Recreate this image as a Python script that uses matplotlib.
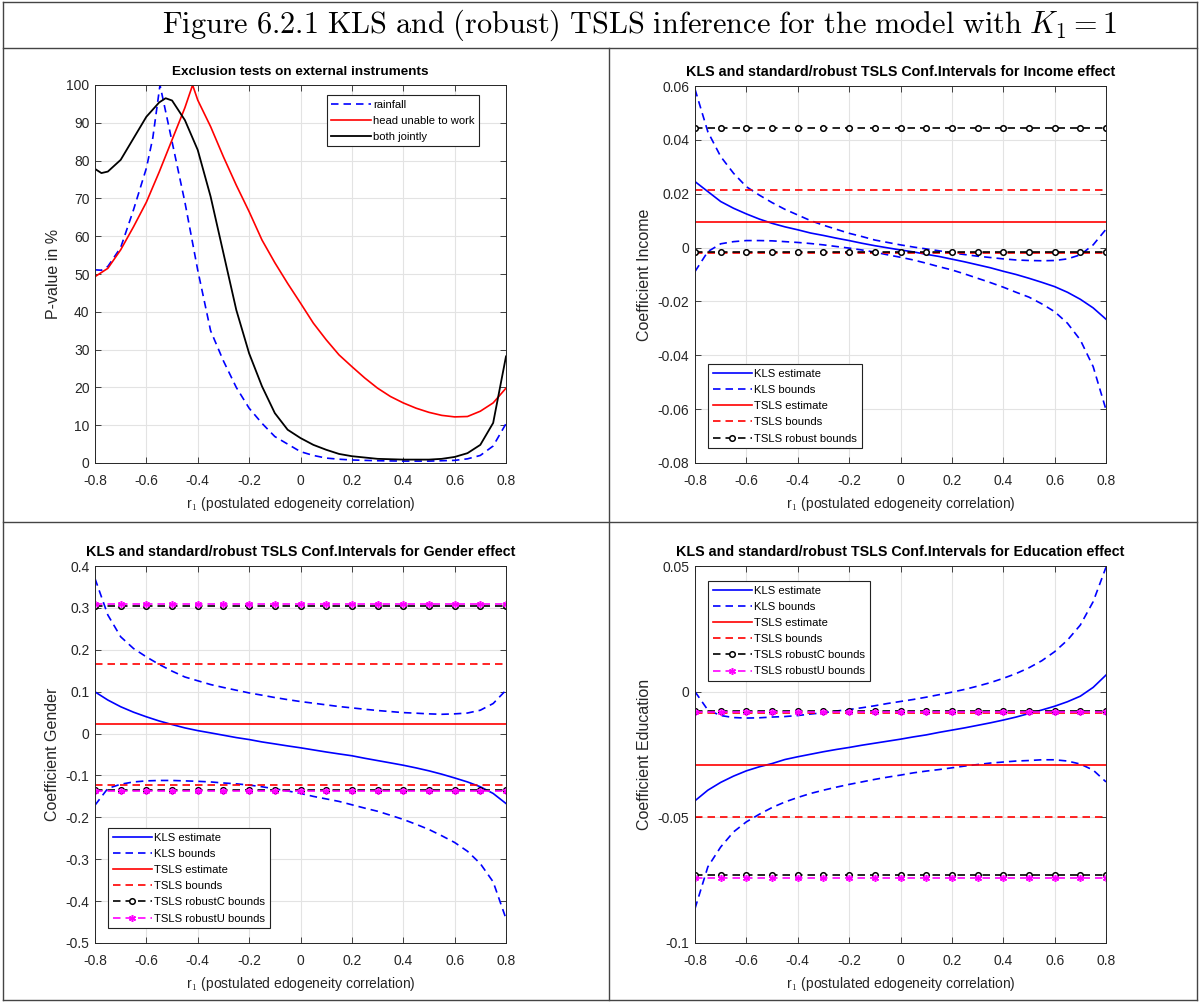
# KLS and (robust) TSLS inference, four panels in a framed table layout.
import matplotlib as mpl
import matplotlib.pyplot as plt
from matplotlib.lines import Line2D

mpl.rcParams['font.family'] = ['Liberation Sans', 'DejaVu Sans']
mpl.rcParams['mathtext.fontset'] = 'cm'

# ---------------- data ----------------
r = [-0.8, -0.75, -0.7, -0.65, -0.6, -0.55, -0.5, -0.45, -0.4, -0.35, -0.3,
     -0.25, -0.2, -0.15, -0.1, -0.05, 0.0, 0.05, 0.1, 0.15, 0.2, 0.25, 0.3,
     0.35, 0.4, 0.45, 0.5, 0.55, 0.6, 0.65, 0.7, 0.75, 0.8]
r_marks = [-0.8, -0.7, -0.6, -0.5, -0.4, -0.3, -0.2, -0.1, 0.0, 0.1, 0.2,
           0.3, 0.4, 0.5, 0.6, 0.7, 0.8]

# panel 1: p-values (%)
r_rain = [-0.8, -0.775, -0.75, -0.7, -0.65, -0.6, -0.575, -0.547, -0.5, -0.45,
          -0.4, -0.35, -0.3, -0.25, -0.2, -0.15, -0.1, -0.05, 0.0, 0.05, 0.1,
          0.15, 0.2, 0.3, 0.4, 0.5, 0.6, 0.65, 0.7, 0.75, 0.8]
p_rain = [51.1, 51.0, 52.0, 57.0, 67.0, 78.0, 86.0, 100.0, 85.0, 69.0,
          51.0, 35.0, 27.0, 20.0, 14.5, 10.5, 7.0, 5.0, 3.0, 2.0, 1.3,
          1.0, 0.8, 0.6, 0.5, 0.5, 0.7, 1.1, 2.0, 4.5, 10.4]
r_head = [-0.8, -0.75, -0.7, -0.65, -0.6, -0.55, -0.5, -0.45, -0.42, -0.4,
          -0.35, -0.3, -0.25, -0.2, -0.15, -0.1, -0.05, 0.0, 0.05, 0.1, 0.15,
          0.2, 0.25, 0.3, 0.35, 0.4, 0.45, 0.5, 0.55, 0.6, 0.65, 0.7, 0.75, 0.8]
p_head = [49.3, 51.5, 56.4, 62.5, 69.0, 77.0, 85.5, 94.0, 100.0, 96.0,
          89.0, 81.0, 73.5, 66.5, 59.0, 53.0, 47.5, 42.3, 37.0, 32.6, 28.6,
          25.5, 22.5, 19.8, 17.6, 15.9, 14.5, 13.4, 12.6, 12.2, 12.3, 13.7, 15.9, 19.8]
r_both = [-0.8, -0.775, -0.75, -0.7, -0.65, -0.6, -0.55, -0.525, -0.5, -0.45,
          -0.4, -0.35, -0.3, -0.25, -0.2, -0.15, -0.1, -0.05, 0.0, 0.05, 0.1,
          0.15, 0.2, 0.3, 0.4, 0.5, 0.55, 0.6, 0.65, 0.7, 0.75, 0.8]
p_both = [77.8, 76.7, 77.1, 80.2, 85.9, 91.6, 95.4, 96.5, 95.9, 90.7,
          82.8, 70.5, 55.5, 40.5, 29.0, 20.3, 13.2, 8.8, 6.6, 4.8, 3.5,
          2.4, 1.8, 1.1, 0.9, 0.9, 1.1, 1.6, 2.6, 4.8, 10.6, 28.2]

# panel 2: income
inc_kls = [0.0245, 0.0208, 0.0171, 0.0146, 0.0125, 0.0106, 0.0090, 0.0077, 0.0066,
           0.0054, 0.0045, 0.0035, 0.0026, 0.0016, 0.0007, -0.0001, -0.0009,
           -0.0016, -0.0025, -0.0033, -0.0043, -0.0053, -0.0064, -0.0075, -0.0088,
           -0.0100, -0.0114, -0.0129, -0.0145, -0.0166, -0.0192, -0.0224, -0.0266]
inc_kls_up = [0.0588, 0.0430, 0.0338, 0.0276, 0.0226, 0.0195, 0.0167, 0.0142, 0.0121,
              0.0100, 0.0083, 0.0068, 0.0053, 0.0041, 0.0028, 0.0019, 0.0010,
              0.0002, -0.0005, -0.0012, -0.0020, -0.0026, -0.0032, -0.0037, -0.0042,
              -0.0046, -0.0048, -0.0049, -0.0048, -0.0042, -0.0027, 0.0010, 0.0068]
inc_kls_lo = [-0.0089, -0.0015, 0.0014, 0.0022, 0.0026, 0.0026, 0.0025, 0.0022, 0.0019,
              0.0015, 0.0010, 0.0004, -0.0002, -0.0009, -0.0017, -0.0027, -0.0036,
              -0.0046, -0.0058, -0.0071, -0.0083, -0.0098, -0.0114, -0.0130, -0.0147,
              -0.0166, -0.0184, -0.0209, -0.0238, -0.0281, -0.0343, -0.0442, -0.0602]
inc_tsls = 0.0096
inc_tsls_bounds = (-0.0022, 0.0214)
inc_robust = (-0.0018, 0.0443)

# panel 3: gender
gen_kls = [0.0995, 0.080, 0.064, 0.051, 0.040, 0.030, 0.0215, 0.0135, 0.007,
           0.0016, -0.004, -0.0096, -0.0143, -0.020, -0.0247, -0.0295, -0.034,
           -0.039, -0.044, -0.0486, -0.053, -0.059, -0.0645, -0.070, -0.0756,
           -0.082, -0.089, -0.097, -0.106, -0.1155, -0.127, -0.143, -0.167]
gen_kls_up = [0.370, 0.283, 0.231, 0.203, 0.183, 0.165, 0.149, 0.135, 0.126,
              0.117, 0.110, 0.1035, 0.097, 0.0916, 0.086, 0.081, 0.0764,
              0.0725, 0.0685, 0.0645, 0.0613, 0.058, 0.055, 0.0525, 0.050,
              0.0486, 0.047, 0.046, 0.047, 0.049, 0.0557, 0.0717, 0.1035]
gen_kls_lo = [-0.171, -0.131, -0.121, -0.1155, -0.113, -0.112, -0.112, -0.113, -0.114,
              -0.1155, -0.118, -0.120, -0.123, -0.127, -0.132, -0.137, -0.143,
              -0.150, -0.156, -0.162, -0.170, -0.178, -0.1855, -0.195, -0.205,
              -0.2166, -0.229, -0.244, -0.260, -0.281, -0.3105, -0.354, -0.442]
gen_tsls = 0.0223
gen_tsls_bounds = (-0.122, 0.167)
gen_robust_c = (-0.134, 0.304)
gen_robust_u = (-0.137, 0.309)

# panel 4: education
edu_kls = [-0.0434, -0.0392, -0.0361, -0.0336, -0.0315, -0.0299, -0.0286, -0.0270, -0.0259,
           -0.0249, -0.0239, -0.0230, -0.0222, -0.0213, -0.0205, -0.0197, -0.0189,
           -0.0180, -0.0172, -0.0162, -0.0153, -0.0144, -0.0134, -0.0124, -0.0113,
           -0.0101, -0.0087, -0.0073, -0.0058, -0.0040, -0.0018, 0.0017, 0.0066]
edu_kls_up = [0.0, -0.0073, -0.0095, -0.0103, -0.0105, -0.0104, -0.0101, -0.0099, -0.0095,
              -0.0089, -0.0084, -0.0077, -0.0071, -0.0064, -0.0056, -0.0047, -0.0039,
              -0.0031, -0.0022, -0.0012, -0.0002, 0.0009, 0.0022, 0.0036, 0.0053,
              0.0072, 0.0095, 0.0123, 0.0159, 0.0205, 0.0265, 0.0358, 0.0495]
edu_kls_lo = [-0.0863, -0.0697, -0.0618, -0.0558, -0.0518, -0.0488, -0.0461, -0.0439, -0.0421,
              -0.0405, -0.0392, -0.0380, -0.0369, -0.0359, -0.0349, -0.0340, -0.0332,
              -0.0323, -0.0316, -0.0310, -0.0303, -0.0296, -0.0290, -0.0284, -0.0280,
              -0.0276, -0.0274, -0.0271, -0.0271, -0.0276, -0.0288, -0.0312, -0.0359]
edu_tsls = -0.0291
edu_tsls_bounds = (-0.0500, -0.0083)
edu_robust_c = (-0.0728, -0.0077)
edu_robust_u = (-0.0740, -0.0081)

W, H = 1200, 1002
XLAB = r'r$_1$ (postulated edogeneity correlation)'
GRAY = '#262626'


def make_axes(fig, x0, y0, x1, y1):
    ax = fig.add_axes([x0 / W, 1 - y1 / H, (x1 - x0) / W, (y1 - y0) / H])
    ax.set_xlim(-0.8, 0.8)
    ax.set_xticks([-0.8, -0.6, -0.4, -0.2, 0, 0.2, 0.4, 0.6, 0.8])
    ax.set_xticklabels(['-0.8', '-0.6', '-0.4', '-0.2', '0', '0.2', '0.4', '0.6', '0.8'])
    ax.grid(True, color='#e3e3e3', linewidth=0.8)
    ax.set_axisbelow(True)
    ax.tick_params(direction='in', top=True, right=True, length=4, width=0.6,
                   labelsize=10, colors=GRAY)
    ax.tick_params(axis='x', pad=8)
    ax.tick_params(axis='y', pad=4)
    for s in ax.spines.values():
        s.set_color(GRAY)
        s.set_linewidth(0.7)
    ax.set_xlabel(XLAB, fontsize=10, color=GRAY, labelpad=5)
    return ax


def hline(ax, y, **kw):
    ax.plot(r_marks, [y] * len(r_marks), **kw)


def legend(ax, loc, anchor):
    lg = ax.legend(loc=loc, bbox_to_anchor=anchor, fontsize=8.1, fancybox=False,
                   edgecolor='#222222', framealpha=1, handlelength=3.5,
                   labelspacing=0.55, borderpad=0.4, handletextpad=0.2,
                   borderaxespad=0)
    lg.get_frame().set_linewidth(0.8)


def ci_panel(ax, kls, up, lo, tsls, tb, robust_c, robust_u=None):
    dash = dict(linestyle=(0, (4.5, 3)), linewidth=1.2)
    ax.plot(r, kls, color='blue', linewidth=1.2, label='KLS estimate')
    ax.plot(r, up, color='blue', label='KLS bounds', **dash)
    ax.plot(r, lo, color='blue', **dash)
    hline(ax, tsls, color='red', linewidth=1.2, label='TSLS estimate')
    hline(ax, tb[0], color='red', label='TSLS bounds', **dash)
    hline(ax, tb[1], color='red', **dash)
    mk = dict(marker='o', markersize=4, markerfacecolor='white',
              markeredgecolor='black', markeredgewidth=1.1)
    lab = 'TSLS robust bounds' if robust_u is None else 'TSLS robustC bounds'
    hline(ax, robust_c[0], color='black', label=lab, **dash, **mk)
    hline(ax, robust_c[1], color='black', **dash, **mk)
    if robust_u is not None:
        mu = dict(marker=(6, 2, 0), markersize=5, markeredgecolor='magenta',
                  markeredgewidth=1.1)
        hline(ax, robust_u[0], color='magenta', label='TSLS robustU bounds', **dash, **mu)
        hline(ax, robust_u[1], color='magenta', **dash, **mu)


fig = plt.figure(figsize=(W / 100, H / 100), dpi=100)

# frame of the table layout
for (xa, ya, xb, yb) in [(3, 2, 1197, 2), (3, 1000, 1197, 1000), (3, 2, 3, 1000),
                         (1197, 2, 1197, 1000), (3, 48, 1197, 48), (3, 522, 1197, 522),
                         (609, 48, 609, 1000)]:
    fig.add_artist(Line2D([xa / W, xb / W], [1 - ya / H, 1 - yb / H],
                          color='#444444', linewidth=1.0))

fig.text(639 / W, 1 - 25 / H,
         r'$\mathrm{Figure\ 6.2.1\ KLS\ and\ (robust)\ TSLS\ inference\ for\ the\ model\ with\ }K_1 = 1$',
         ha='center', va='center', fontsize=21.8)

TPAD = 7

# panel 1
ax1 = make_axes(fig, 95, 85, 506, 463)
ax1.plot(r_rain, p_rain, color='blue', linestyle=(0, (4.5, 3)), linewidth=1.2, label='rainfall')
ax1.plot(r_head, p_head, color='red', linewidth=1.2, label='head unable to work')
ax1.plot(r_both, p_both, color='black', linewidth=1.3, label='both jointly')
ax1.set_ylim(0, 100)
ax1.set_yticks(range(0, 101, 10))
ax1.set_ylabel('P-value in %', fontsize=11.5, color=GRAY)
ax1.set_title('Exclusion tests on external instruments', fontsize=9.7, fontweight='bold', pad=TPAD)
legend(ax1, 'upper right', (1 - 27 / 411, 1 - 10 / 378))

# panel 2
ax2 = make_axes(fig, 695, 86, 1106, 463)
ci_panel(ax2, inc_kls, inc_kls_up, inc_kls_lo, inc_tsls, inc_tsls_bounds, inc_robust)
ax2.set_ylim(-0.08, 0.06)
ax2.set_yticks([-0.08, -0.06, -0.04, -0.02, 0, 0.02, 0.04, 0.06])
ax2.set_yticklabels(['-0.08', '-0.06', '-0.04', '-0.02', '0', '0.02', '0.04', '0.06'])
ax2.set_ylabel('Coefficient Income', fontsize=11.5, color=GRAY)
ax2.set_title('KLS and standard/robust TSLS Conf.Intervals for Income effect',
              fontsize=10.3, fontweight='bold', pad=TPAD)
legend(ax2, 'lower left', (13 / 411, 15 / 377))

# panel 3
ax3 = make_axes(fig, 95, 566, 506, 943)
ci_panel(ax3, gen_kls, gen_kls_up, gen_kls_lo, gen_tsls, gen_tsls_bounds,
         gen_robust_c, gen_robust_u)
ax3.set_ylim(-0.5, 0.4)
ax3.set_yticks([-0.5, -0.4, -0.3, -0.2, -0.1, 0, 0.1, 0.2, 0.3, 0.4])
ax3.set_yticklabels(['-0.5', '-0.4', '-0.3', '-0.2', '-0.1', '0', '0.1', '0.2', '0.3', '0.4'])
ax3.set_ylabel('Coefficient Gender', fontsize=11.5, color=GRAY)
ax3.set_title('KLS and standard/robust TSLS Conf.Intervals for Gender effect',
              fontsize=10.3, fontweight='bold', pad=TPAD)
legend(ax3, 'lower left', (13 / 411, 15 / 377))

# panel 4
ax4 = make_axes(fig, 695, 566, 1106, 943)
ci_panel(ax4, edu_kls, edu_kls_up, edu_kls_lo, edu_tsls, edu_tsls_bounds,
         edu_robust_c, edu_robust_u)
ax4.set_ylim(-0.1, 0.05)
ax4.set_yticks([-0.1, -0.05, 0, 0.05])
ax4.set_yticklabels(['-0.1', '-0.05', '0', '0.05'])
ax4.set_ylabel('Coefficient Education', fontsize=11.5, color=GRAY)
ax4.set_title('KLS and standard/robust TSLS Conf.Intervals for Education effect',
              fontsize=10.3, fontweight='bold', pad=TPAD)
legend(ax4, 'upper left', (13 / 411, 1 - 15 / 377))

fig.savefig('out.png', dpi=100)
